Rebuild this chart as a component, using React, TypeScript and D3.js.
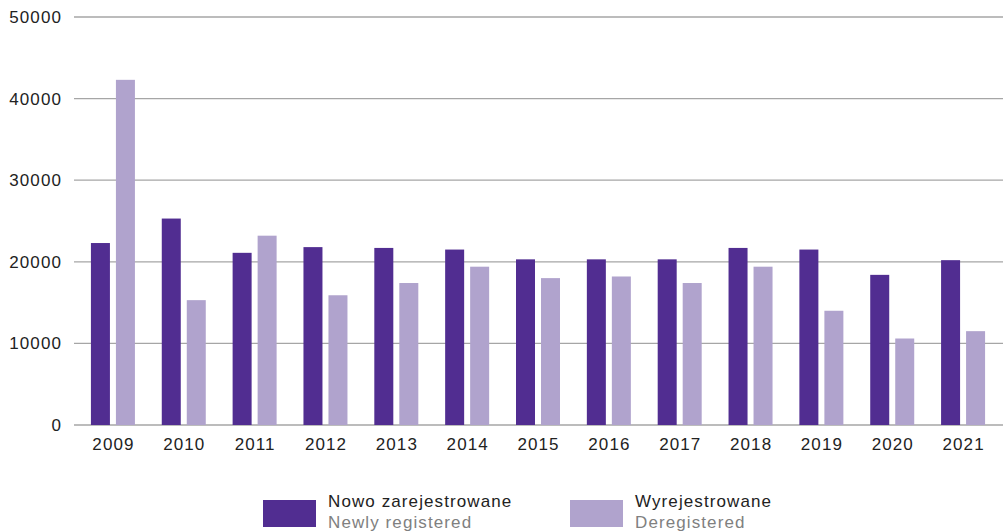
import React from "react";
import * as d3 from "d3";

const years = ["2009", "2010", "2011", "2012", "2013", "2014", "2015", "2016", "2017", "2018", "2019", "2020", "2021"];
const newlyRegistered = [22300, 25300, 21100, 21800, 21700, 21500, 20300, 20300, 20300, 21700, 21500, 18400, 20200];
const deregistered = [42300, 15300, 23200, 15900, 17400, 19400, 18000, 18200, 17400, 19400, 14000, 10600, 11500];
const yTicks = [0, 10000, 20000, 30000, 40000, 50000];
const seriesNames = [
  { pl: "Nowo zarejestrowane", en: "Newly registered", color: "#512d91" },
  { pl: "Wyrejestrowane", en: "Deregistered", color: "#b0a3cd" },
];

const W = 1003;
const H = 532;
const FONT = "'Liberation Sans', Arial, sans-serif";
const FS = 17;
const LS = 1.1;

export default function App() {
  const x = d3.scaleBand().domain(years).range([77.5, 998.5]);
  const y = d3.scaleLinear().domain([0, 50000]).range([425, 17]);
  const barW = 19;
  const gap = 6;

  return (
    <svg width={W} height={H} style={{ position: "absolute", left: 0, top: 0, fontFamily: FONT }}>
      {yTicks.map((t) => (
        <g key={t}>
          <line x1={74} x2={1003} y1={y(t)} y2={y(t)} stroke="#a6a6a6" strokeWidth={1.3} />
          <text x={62} y={y(t) + 6} textAnchor="end" fontSize={FS} letterSpacing={LS} fill="#222">{t}</text>
        </g>
      ))}
      {years.map((yr, i) => {
        const c = x(yr)! + x.bandwidth() / 2;
        return (
          <g key={yr}>
            <rect x={c - gap / 2 - barW} y={y(newlyRegistered[i])} width={barW}
              height={y(0) - y(newlyRegistered[i])} fill={seriesNames[0].color} />
            <rect x={c + gap / 2} y={y(deregistered[i])} width={barW}
              height={y(0) - y(deregistered[i])} fill={seriesNames[1].color} />
            <text x={c + LS / 2} y={450} textAnchor="middle" fontSize={FS} letterSpacing={LS} fill="#222">{yr}</text>
          </g>
        );
      })}
      {seriesNames.map((s, i) => {
        const lx = i === 0 ? 263 : 570;
        return (
          <g key={s.pl}>
            <rect x={lx} y={500} width={53} height={27} fill={s.color} />
            <text x={lx + 65} y={507} fontSize={FS} letterSpacing={LS} fill="#222">{s.pl}</text>
            <text x={lx + 65} y={528} fontSize={FS} letterSpacing={LS} fill="#808080">{s.en}</text>
          </g>
        );
      })}
    </svg>
  );
}
